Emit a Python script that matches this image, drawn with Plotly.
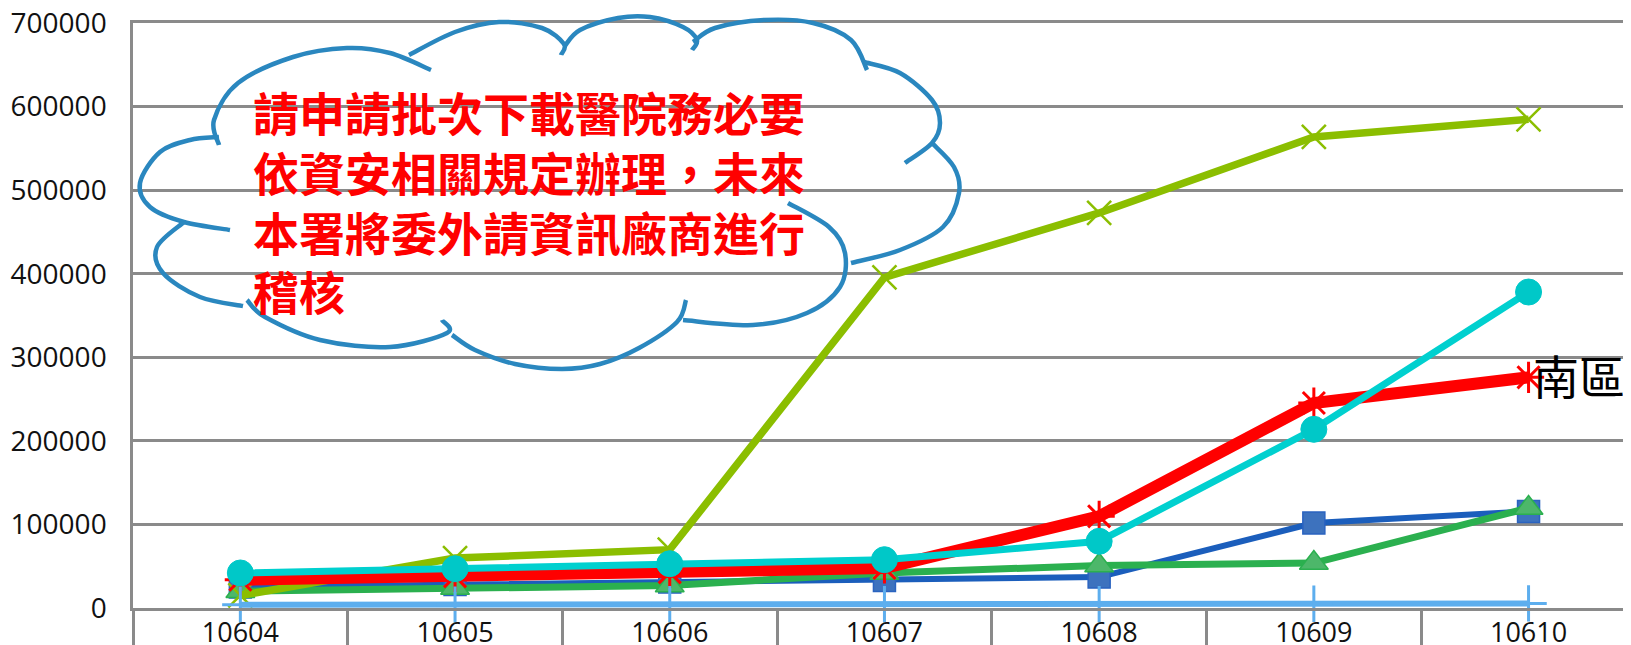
import plotly.graph_objects as go

# ---------------- data ----------------
months = ["10604", "10605", "10606", "10607", "10608", "10609", "10610"]
s_blue = [25000, 28000, 31000, 33000, 37000, 101700, 115600]
s_green = [20000, 24000, 27000, 42000, 50800, 53800, 119700]
s_lime = [15000, 59800, 69800, 395600, 472700, 563600, 584800]
s_red = [33900, 37900, 42700, 47900, 109700, 245300, 276000]
s_cyan = [41900, 47000, 53000, 57800, 79800, 213800, 378100]
s_lightblue = [4000, 4000, 4500, 4500, 4500, 5000, 5500]
y_ticks = [0, 100000, 200000, 300000, 400000, 500000, 600000, 700000]
label_south = "南區"
cloud_lines = ["請申請批次下載醫院務必要",
               "依資安相關規定辦理，未來",
               "本署將委外請資訊廠商進行",
               "稽核"]

# ---------------- layout geometry ----------------
# the page body has an 8px margin, so the figure is 8px smaller and all
# page-pixel positions below are measured on the page.
OFF = 8
W, H = 1631 - OFF, 645 - OFF
L_PAGE, T_PAGE, BOT_PAGE = 133, 23, 608
L, T = L_PAGE - OFF, T_PAGE - OFF
B = H - (BOT_PAGE - OFF)
PW, PH = W - L, H - T - B
CAT_PX = 214.7
x_range = [-0.5, -0.5 + PW / CAT_PX]

def px(x):
    return (x - L_PAGE) / PW

def py(y):
    return (T_PAGE + PH - y) / PH

GRID = "#8a8a8a"

fig = go.Figure()

fig.add_trace(go.Scatter(x=months, y=s_blue, mode="lines+markers",
                         line=dict(color="#1B5EBC", width=6),
                         marker=dict(symbol="square", size=22, color="#3D72BE",
                                     line=dict(color="#2A63C0", width=1.5)),
                         showlegend=False))
fig.add_trace(go.Scatter(x=months, y=s_green, mode="lines+markers",
                         line=dict(color="#2BB04F", width=7),
                         marker=dict(symbol="triangle-up", size=25, color="#4DB76A",
                                     line=dict(color="#2BB04F", width=1.5)),
                         showlegend=False))
fig.add_trace(go.Scatter(x=months, y=s_lime, mode="lines+markers",
                         line=dict(color="#8BBE00", width=7.5),
                         marker=dict(symbol="x-thin", size=24,
                                     line=dict(color="#8BBE00", width=2.5)),
                         showlegend=False))
fig.add_trace(go.Scatter(x=months, y=s_red, mode="lines+markers",
                         line=dict(color="#FF0000", width=12),
                         marker=dict(symbol="asterisk", size=26,
                                     line=dict(color="#FF0000", width=3)),
                         showlegend=False))
fig.add_trace(go.Scatter(x=months, y=s_cyan, mode="lines+markers",
                         line=dict(color="#00D0CF", width=7),
                         marker=dict(symbol="circle", size=26, color="#00C8C8",
                                     line=dict(color="#00C8C8", width=1)),
                         showlegend=False))
fig.add_trace(go.Scatter(x=months, y=s_lightblue, mode="lines+markers",
                         xaxis="x2", cliponaxis=False,
                         line=dict(color="#5DAEEE", width=6),
                         marker=dict(symbol="cross-thin", size=26,
                                     line=dict(color="#5DAEEE", width=3)),
                         showlegend=False))

# ---------------- cloud callout (page pixels) ----------------
bumps = [
    [(219, 137), (190, 140), (160, 152), (140, 183), (150, 207), (184, 222), (230, 230)],
    [(219, 145), (214, 120), (238, 83), (293, 57), (347, 48), (390, 53), (431, 70)],
    [(409, 55), (455, 32), (499, 22), (542, 28), (564, 44), (561, 55)],
    [(564, 47), (580, 30), (618, 18), (650, 17), (683, 27), (697, 40), (692, 50)],
    [(693, 42), (715, 28), (764, 20), (813, 23), (851, 40), (867, 70)],
    [(864, 62), (900, 73), (932, 100), (940, 123), (932, 143), (905, 163)],
    [(932, 143), (954, 167), (959, 193), (943, 227), (900, 250), (851, 263)],
    [(788, 203), (829, 227), (845, 253), (840, 287), (807, 313), (753, 325), (683, 320)],
    [(686, 300), (677, 322), (639, 348), (600, 364), (562, 369), (515, 364), (475, 350), (452, 335)],
    [(442, 320), (447, 333), (390, 347), (320, 340), (265, 317), (247, 300)],
    [(184, 222), (157, 247), (163, 273), (200, 297), (243, 306)],
]

def smooth_path(pts):
    pts = [pts[0]] + pts + [pts[-1]]
    def f(p):
        return f"{px(p[0]):.5f},{py(p[1]):.5f}"
    d = "M " + f(pts[1])
    for i in range(1, len(pts) - 2):
        p0, p1, p2, p3 = pts[i - 1], pts[i], pts[i + 1], pts[i + 2]
        c1 = (p1[0] + (p2[0] - p0[0]) / 6, p1[1] + (p2[1] - p0[1]) / 6)
        c2 = (p2[0] - (p3[0] - p1[0]) / 6, p2[1] - (p3[1] - p1[1]) / 6)
        d += " C " + f(c1) + " " + f(c2) + " " + f(p2)
    return d

for b in bumps:
    fig.add_shape(type="path", path=smooth_path(b), xref="paper", yref="paper",
                  line=dict(color="#2A87BF", width=4.5), layer="above")

fig.add_annotation(text="<br>".join(cloud_lines), xref="paper", yref="paper",
                   x=px(252), y=py(200), xanchor="left", yanchor="middle",
                   align="left", showarrow=False, borderpad=0,
                   font=dict(family="Noto Sans CJK TC", size=46,
                             color="#FF0000", weight="bold"))

fig.add_annotation(text=label_south, xref="paper", yref="paper",
                   x=px(1532), y=py(374), xanchor="left", yanchor="middle",
                   showarrow=False, borderpad=0,
                   font=dict(family="Noto Sans CJK TC", size=46, color="#000000"))

fig.update_layout(
    width=W, height=H,
    margin=dict(l=L, r=0, t=T, b=B, pad=0, autoexpand=False),
    plot_bgcolor="white", paper_bgcolor="white",
    xaxis=dict(type="category", categoryarray=months, range=x_range,
               automargin=False,
               showgrid=False, zeroline=False,
               showline=True, mirror=True, linecolor=GRID, linewidth=2.5,
               tickson="boundaries", ticks="outside", ticklen=40,
               tickwidth=2.5, tickcolor=GRID, showticklabels=False),
    xaxis2=dict(type="category", categoryarray=months, range=x_range,
                automargin=False, ticklabeloverflow="allow",
                overlaying="x", anchor="y", side="bottom",
                showgrid=False, zeroline=False, showline=False, ticks="",
                ticklabelstandoff=6,
                tickfont=dict(family="Open Sans", size=27, color="#111111")),
    yaxis=dict(range=[0, 700000], tickvals=y_ticks, tickformat="d",
               automargin=False, ticklabeloverflow="allow",
               showgrid=True, gridcolor=GRID, gridwidth=2.5,
               zeroline=True, zerolinecolor=GRID, zerolinewidth=2.5,
               showline=True, linecolor=GRID, linewidth=2.5,
               ticks="", ticklabelstandoff=18,
               tickfont=dict(family="Open Sans", size=28, color="#111111")),
)

fig.write_html("out.html")
